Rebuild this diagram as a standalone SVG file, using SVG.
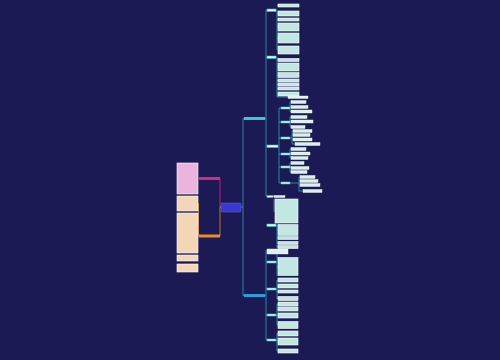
<svg xmlns="http://www.w3.org/2000/svg" width="500" height="360" viewBox="0 0 500 360">
<style>
.t{fill:#c2e7e2;stroke:#ffffff;stroke-width:0.6}
.w{fill:#dcf1ee;stroke:#ffffff;stroke-width:0.4}
.lb{fill:#e9f7f5;stroke:#2fb8c2;stroke-width:0.6}
.c{fill:none;stroke:#2fb8c2;stroke-width:0.7}
.pk{fill:none;stroke:#d8278a;stroke-width:0.8}
.or{fill:none;stroke:#f08a24;stroke-width:0.8}
</style>
<rect width="500" height="360" fill="#1b1a55"/>
<g id="connectors">
<path class="pk" d="M221,207 H220 V178.5 H219"/>
<path class="or" d="M221,207 H220 V236 H219"/>
<path class="c" d="M241,207 H243 V118.5 H244 M243,207 V295.5 H244"/>
<path class="c" d="M265,118.5 H266 M266,10 V196 M266,10 H267 M266,57 H267 M266,146 H267 M266,196 H267 M266,225 H267"/>
<path class="c" d="M265,295.5 H266 M266,250 V340 M266,262 H267 M266,289 H267 M266,315 H267 M266,340 H267"/>
<path class="c" d="M276,10 H277 V50 M277,5.5 H278 M277,13.5 H278 M277,19.5 H278 M277,27 H278 M277,38 H278 M277,50 H278"/>
<path class="c" d="M276,57 H277 V97 M277,60 H278 M277,67 H278 M277,75 H278 M277,80.5 H278 M277,84.5 H278 M277,88.5 H278 M277,94 H278 M277,97 H288"/>
<path class="c" d="M278,146 H279 V108 M279,183 V146 M279,108 H281 M279,122 H281 M279,138 H281 M279,154 H281 M279,167 H281 M279,183 H281"/>
<path class="c" d="M290,108 V102 M290,108 V111.5 M290,102 H291 M290,107 H291 M290,111.5 H291"/>
<path class="c" d="M290,122 V117 M290,122 V127 M290,117 H291 M290,121.5 H291 M290,127 H291"/>
<path class="c" d="M290,138 H292 V131 M292,138 V144 M292,131 H293 M292,135 H293 M292,139.5 H293 M292,144 H295"/>
<path class="c" d="M290,154 V149 M290,154 V158 M290,149 H291 M290,153.5 H291 M290,158 H291"/>
<path class="c" d="M290,167 V163 M290,167 V172 M290,163 H291 M290,168 H291 M290,172 H291"/>
<path class="c" d="M290,183 H299 V177 M299,183 V191 M299,177 H300 M299,181 H300 M299,185 H300 M299,191 H303"/>
<path class="c" d="M273,196.5 H274 M276,225 H277 V248 M274,212 H274 V199 M277,226 H278 M277,230 H278 M277,238 H278 M277,243 H278 M277,247 H278"/>
<path class="c" d="M276,262 H277 V252 M277,262 V276 M277,267 H278"/>
<path class="c" d="M276,289 H277 V280 M277,289 V299 M277,280 H278 M277,286 H278 M277,291.5 H278 M277,298.5 H278"/>
<path class="c" d="M276,315 H277 V304 M277,315 V325 M277,304 H278 M277,309 H278 M277,315.5 H278 M277,325 H278"/>
<path class="c" d="M276,340 H277 V333 M277,340 V351 M277,333.5 H278 M277,341.5 H278 M277,351 H278"/>
<path class="or" d="M199,236 H198.5 V203"/>
</g>
<g id="center"><rect x="221" y="203" width="20" height="9" rx="1" fill="#3838d4" stroke="#6060e6" stroke-width="0.5"/></g>
<g id="left">
<rect x="199" y="177" width="21" height="3" fill="#d8278a"/>
<rect x="199" y="234.5" width="21" height="3" fill="#f08a24"/>
<rect x="177" y="163" width="21" height="31" fill="#eab4dc" stroke="#fff" stroke-width="0.6"/>
<rect x="177" y="196" width="21" height="15" fill="#f3d5b8" stroke="#fff" stroke-width="0.6"/>
<rect x="177" y="213" width="21" height="40" fill="#f3d5b8" stroke="#fff" stroke-width="0.6"/>
<rect x="177" y="255" width="21" height="6" fill="#f3d5b8" stroke="#fff" stroke-width="0.6"/>
<rect x="177" y="264" width="21" height="8" fill="#f3d5b8" stroke="#fff" stroke-width="0.6"/>
</g>
<g id="branch-top">
<rect x="244" y="117" width="21" height="3" fill="#3cc8c8"/>
<rect class="lb" x="267" y="9" width="9" height="2.5"/>
<rect class="lb" x="267" y="56" width="9" height="2.5"/>
<rect class="lb" x="267" y="145" width="11" height="2.5"/>
<rect class="lb" x="267" y="195.5" width="6" height="2"/>
<rect class="lb" x="267" y="224" width="9" height="2.5"/>
<rect class="t" x="278" y="4" width="21" height="3"/>
<rect class="t" x="278" y="11" width="21" height="5"/>
<rect class="t" x="278" y="18" width="21" height="3"/>
<rect class="t" x="278" y="23" width="21" height="8"/>
<rect class="t" x="278" y="33" width="21" height="10"/>
<rect class="t" x="278" y="46" width="21" height="8"/>
<rect class="t" x="278" y="58.5" width="21" height="3"/>
<rect class="t" x="278" y="63" width="21" height="8"/>
<rect class="t" x="278" y="72.5" width="21" height="5"/>
<rect class="t" x="278" y="79" width="21" height="3"/>
<rect class="t" x="278" y="83" width="21" height="3"/>
<rect class="t" x="278" y="87" width="21" height="3"/>
<rect class="t" x="278" y="92" width="21" height="4"/>
<rect class="w" x="288" y="96" width="20" height="2.5"/>
<rect class="lb" x="281" y="107" width="9" height="2"/>
<rect class="lb" x="281" y="121" width="9" height="2"/>
<rect class="lb" x="281" y="137" width="9" height="2"/>
<rect class="lb" x="281" y="153" width="9" height="2"/>
<rect class="lb" x="281" y="166" width="9" height="2"/>
<rect class="lb" x="281" y="182" width="9" height="2"/>
<rect class="w" x="291" y="100.5" width="15" height="3"/>
<rect class="w" x="291" y="105.5" width="17" height="3"/>
<rect class="w" x="291" y="110" width="21" height="3"/>
<rect class="w" x="291" y="115.5" width="16" height="3"/>
<rect class="w" x="291" y="120" width="22" height="3"/>
<rect class="w" x="291" y="125.5" width="14" height="3"/>
<rect class="w" x="293" y="129.5" width="19" height="3"/>
<rect class="w" x="293" y="133.5" width="17" height="3"/>
<rect class="w" x="293" y="138" width="19" height="3"/>
<rect class="w" x="295" y="142.5" width="25" height="3"/>
<rect class="w" x="291" y="147.5" width="15" height="3"/>
<rect class="w" x="291" y="152" width="19" height="3"/>
<rect class="w" x="291" y="156.5" width="17" height="3"/>
<rect class="w" x="291" y="161.5" width="13" height="3"/>
<rect class="w" x="291" y="166.5" width="18" height="3"/>
<rect class="w" x="291" y="170.5" width="16" height="3"/>
<rect class="w" x="300" y="175.5" width="15" height="3"/>
<rect class="w" x="300" y="179.5" width="18" height="3"/>
<rect class="w" x="300" y="183.5" width="20" height="3"/>
<rect class="w" x="303" y="189.5" width="19" height="3"/>
<rect class="w" x="274" y="195.5" width="11" height="2"/>
<rect class="t" x="275" y="199" width="23" height="24"/>
<rect class="t" x="278" y="224.5" width="20" height="11"/>
<rect class="t" x="278" y="236.5" width="20" height="3"/>
<rect class="t" x="278" y="241.5" width="20" height="3"/>
<rect class="t" x="278" y="245.5" width="20" height="3"/>
</g>
<g id="branch-bottom">
<rect x="244" y="294" width="21" height="3" fill="#2f9ed6"/>
<rect class="w" x="267" y="249" width="21" height="5"/>
<rect class="lb" x="267" y="261" width="9" height="2"/>
<rect class="lb" x="267" y="288" width="9" height="2"/>
<rect class="lb" x="267" y="314" width="9" height="2"/>
<rect class="lb" x="267" y="339" width="9" height="2"/>
<rect class="t" x="278" y="257.5" width="20" height="18"/>
<rect class="t" x="278" y="278" width="20" height="4"/>
<rect class="t" x="278" y="284" width="20" height="4"/>
<rect class="t" x="278" y="290" width="20" height="3"/>
<rect class="t" x="278" y="296.5" width="20" height="4"/>
<rect class="t" x="278" y="302" width="20" height="4"/>
<rect class="t" x="278" y="307" width="20" height="4"/>
<rect class="t" x="278" y="313" width="20" height="5"/>
<rect class="t" x="278" y="321.5" width="20" height="7"/>
<rect class="t" x="278" y="331" width="20" height="5"/>
<rect class="t" x="278" y="338" width="20" height="7"/>
<rect class="t" x="278" y="349" width="20" height="4"/>
</g>
</svg>
